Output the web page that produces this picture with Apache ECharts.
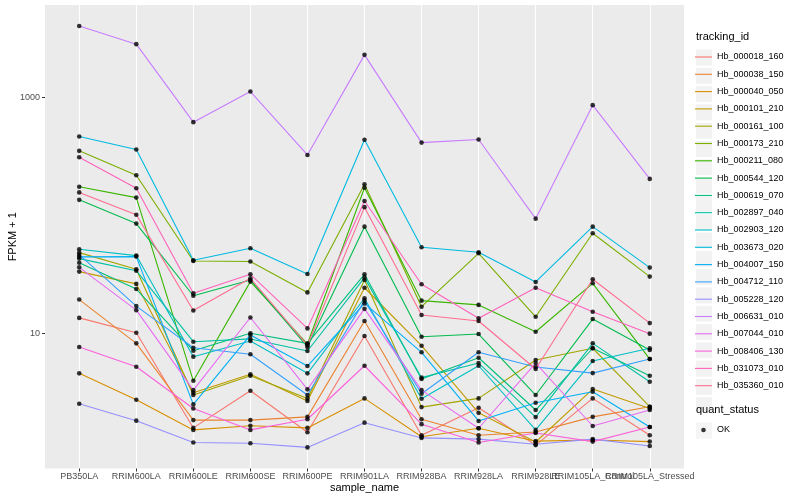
<!DOCTYPE html>
<html><head><meta charset="utf-8">
<script src="https://cdn.jsdelivr.net/npm/echarts@6/dist/echarts.min.js"></script>
<style>html,body{margin:0;padding:0;background:#fff}#c{width:800px;height:500px}</style>
</head><body><div id="c"></div>
<script>
const sampleNames = ['PB350LA','RRIM600LA','RRIM600LE','RRIM600SE','RRIM600PE','RRIM901LA','RRIM928BA','RRIM928LA','RRIM928LE','RRIM105LA_Control','RRIM105LA_Stressed'];
const trackingIds = ['Hb_000018_160','Hb_000038_150','Hb_000040_050','Hb_000101_210','Hb_000161_100','Hb_000173_210','Hb_000211_080','Hb_000544_120','Hb_000619_070','Hb_002897_040','Hb_002903_120','Hb_003673_020','Hb_004007_150','Hb_004712_110','Hb_005228_120','Hb_006631_010','Hb_007044_010','Hb_008406_130','Hb_031073_010','Hb_035360_010'];
const colors = ['#F8766D','#EA8331','#D89000','#C09B00','#A3A500','#7CAE00','#39B600','#00BB4E','#00BF7D','#00C1A3','#00BFC4','#00BAE0','#00B0F6','#35A2FF','#9590FF','#C77CFF','#E76BF3','#FA62DB','#FF62BC','#FF6C91'];
const yTickLabels = [10, 1000];
const quantStatus = ['OK'];

const Hb_000018_160 = [13.5, 10.1, 1.58, 3.26, 1.45, 9.48, 1.37, 2.34, 1.13, 2.81, 1.37];
const Hb_000038_150 = [19.3, 8.22, 1.84, 1.84, 1.96, 12.7, 1.87, 1.37, 1.46, 1.96, 2.39];
const Hb_000040_050 = [4.58, 2.74, 1.52, 1.65, 1.58, 2.81, 1.33, 1.57, 1.22, 1.25, 1.21];
const Hb_000101_210 = [33.3, 26.2, 3.14, 4.50, 2.67, 24.3, 7.85, 2.12, 1.20, 3.37, 2.31];
const Hb_000161_100 = [48.2, 34.8, 3.00, 4.37, 2.81, 28.3, 2.37, 2.81, 5.94, 7.47, 2.39];
const Hb_000173_210 = [351, 218, 41.0, 40.5, 22.2, 183, 16.8, 47.6, 13.8, 70.3, 30.2];
const Hb_000211_080 = [174, 141, 3.96, 27.4, 8.11, 171, 18.9, 17.4, 10.3, 26.5, 6.05];
const Hb_000544_120 = [135, 84.9, 20.8, 28.3, 7.66, 80.0, 9.35, 9.86, 3.00, 13.2, 7.21];
const Hb_000619_070 = [39.6, 23.7, 7.12, 10.0, 8.22, 31.6, 4.10, 6.21, 2.24, 7.47, 4.37];
const Hb_002897_040 = [42.9, 33.9, 8.49, 8.96, 7.08, 29.6, 4.21, 5.60, 1.95, 8.22, 3.89];
const Hb_002903_120 = [51.5, 45.5, 6.34, 8.61, 4.58, 19.8, 2.79, 5.31, 1.52, 5.82, 7.47];
const Hb_003673_020 = [464, 360, 41.6, 52.5, 31.8, 435, 53.6, 48.5, 27.2, 80.0, 36.0];
const Hb_004007_150 = [44.4, 44.6, 2.50, 9.69, 5.28, 17.9, 6.90, 1.81, 2.58, 3.20, 1.61];
const Hb_004712_110 = [46.3, 17.0, 7.55, 6.64, 3.00, 18.9, 3.08, 6.90, 5.18, 4.60, 6.05];
const Hb_005228_120 = [2.53, 1.82, 1.19, 1.17, 1.08, 1.75, 1.30, 1.27, 1.15, 1.27, 1.11];
const Hb_006631_010 = [4000, 2810, 614, 1115, 324, 2280, 412, 438, 93.5, 855, 203];
const Hb_007044_010 = [36.2, 15.7, 3.30, 13.6, 3.35, 16.1, 3.30, 1.57, 5.60, 1.64, 2.24];
const Hb_008406_130 = [7.66, 5.21, 2.31, 1.52, 1.87, 5.31, 1.70, 1.19, 1.43, 1.21, 1.61];
const Hb_031073_010 = [310, 169, 21.8, 31.6, 11.0, 132, 26.0, 13.4, 24.3, 15.2, 9.93];
const Hb_035360_010 = [156, 101, 15.6, 29.2, 7.89, 117, 14.3, 12.7, 4.98, 28.7, 12.2];

const seriesValues = [Hb_000018_160, Hb_000038_150, Hb_000040_050, Hb_000101_210, Hb_000161_100, Hb_000173_210, Hb_000211_080, Hb_000544_120, Hb_000619_070, Hb_002897_040, Hb_002903_120, Hb_003673_020, Hb_004007_150, Hb_004712_110, Hb_005228_120, Hb_006631_010, Hb_007044_010, Hb_008406_130, Hb_031073_010, Hb_035360_010];

const FONT = '"Liberation Sans", Arial, Helvetica, sans-serif';
const chart = echarts.init(document.getElementById('c'), null, {renderer: 'canvas'});

const X_MIN = -0.6, X_MAX = 10.6;
const xPositions = [X_MIN].concat(sampleNames.map((_, i) => i), [X_MAX]);

const lineSeries = trackingIds.map((id, k) => ({
  name: id, type: 'line', color: colors[k], symbol: 'none', showSymbol: false,
  lineStyle: {width: 1.1, color: colors[k]}, z: 2, silent: true,
  data: seriesValues[k].map((v, i) => [i, v])
}));
const points = [];
seriesValues.forEach(arr => arr.forEach((v, i) => points.push([i, v])));
const pointSeries = {
  name: quantStatus[0], type: 'scatter', symbol: 'circle', symbolSize: 4.6,
  itemStyle: {color: '#000'}, z: 3, silent: true, data: points
};

const lineIcon = 'path://M0,0 M17,17 M0,7.95 L17,7.95 L17,9.05 L0,9.05 Z';
const dotIcon = 'path://M0,0 M17,17 M10.8,8.5 A2.3,2.3 0 1 1 6.2,8.5 A2.3,2.3 0 1 1 10.8,8.5 Z';
const legendCommon = {orient: 'vertical', left: 695, itemWidth: 17, itemHeight: 17, itemGap: 0.3, padding: 0, selectedMode: false};

chart.setOption({
  animation: false,
  backgroundColor: '#fff',
  textStyle: {fontFamily: FONT},
  title: [
    {text: 'tracking_id', left: 696, top: 31, padding: 0, textStyle: {fontSize: 11, fontWeight: 'normal', color: '#000', fontFamily: FONT}},
    {text: 'quant_status', left: 696, top: 404, padding: 0, textStyle: {fontSize: 11, fontWeight: 'normal', color: '#000', fontFamily: FONT}}
  ],
  grid: {left: 45, top: 5, width: 639, height: 463.5, show: true, backgroundColor: '#EBEBEB', borderWidth: 0, containLabel: false, outerBoundsMode: 'none'},
  xAxis: {
    type: 'value', min: X_MIN, max: X_MAX, minInterval: 1, maxInterval: 1,
    axisLine: {show: false, onZero: false},
    axisTick: {show: true, length: 3, lineStyle: {color: '#333', width: 1}, customValues: xPositions},
    axisLabel: {customValues: xPositions, hideOverlap: false, showMinLabel: false, showMaxLabel: false,
      formatter: v => (Number.isInteger(v) && sampleNames[v]) ? sampleNames[v] : '', color: '#4D4D4D', fontSize: 9, margin: 4, fontFamily: FONT},
    splitLine: {show: true, showMinLine: false, showMaxLine: false, lineStyle: {color: '#fff', width: 1.1}},
    name: 'sample_name', nameLocation: 'middle', nameGap: 14, nameMoveOverlap: false,
    nameTextStyle: {color: '#000', fontSize: 11, fontFamily: FONT}
  },
  yAxis: {
    type: 'log', logBase: 10, min: 0.716, max: 6030,
    axisLine: {show: false, onZero: false},
    axisTick: {show: true, length: 3, lineStyle: {color: '#333', width: 1}, customValues: yTickLabels},
    axisLabel: {customValues: yTickLabels, formatter: v => yTickLabels.indexOf(Math.round(v)) >= 0 && Math.abs(v - Math.round(v)) < 1e-6 ? String(Math.round(v)) : '', color: '#4D4D4D', fontSize: 9, margin: 5, fontFamily: FONT},
    splitLine: {show: true, showMinLine: false, showMaxLine: false, lineStyle: {color: '#fff', width: 1}},
    name: 'FPKM + 1', nameLocation: 'middle', nameGap: 27, nameMoveOverlap: false,
    nameTextStyle: {color: '#000', fontSize: 11, fontFamily: FONT}
  },
  legend: [
    Object.assign({}, legendCommon, {id: 'bgTrack', top: 48.5, data: trackingIds, icon: 'rect', z: 3,
      itemStyle: {color: '#F2F2F2', borderColor: '#fff', borderWidth: 1},
      textStyle: {color: 'rgba(0,0,0,0)', fontSize: 9, fontFamily: FONT}}),
    Object.assign({}, legendCommon, {id: 'fgTrack', top: 48.5, data: trackingIds, icon: lineIcon, z: 4,
      itemStyle: {borderWidth: 0},
      textStyle: {color: '#000', fontSize: 9, fontFamily: FONT}}),
    Object.assign({}, legendCommon, {id: 'bgOK', top: 421.5, data: quantStatus, icon: 'rect', z: 3,
      itemStyle: {color: '#F2F2F2', borderColor: '#fff', borderWidth: 1},
      textStyle: {color: 'rgba(0,0,0,0)', fontSize: 9, fontFamily: FONT}}),
    Object.assign({}, legendCommon, {id: 'fgOK', top: 421.5, data: quantStatus, icon: dotIcon, z: 4,
      itemStyle: {color: '#000', borderWidth: 0},
      textStyle: {color: '#000', fontSize: 9, fontFamily: FONT}})
  ],
  series: lineSeries.concat([pointSeries])
});
</script>
</body></html>
